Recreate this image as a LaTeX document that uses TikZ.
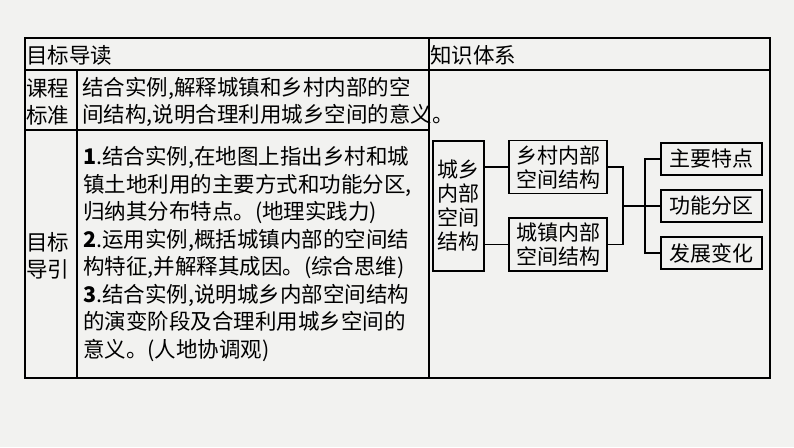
\documentclass[tikz,border=0pt]{standalone}
\usepackage{fontspec}
\setmainfont{Noto Sans CJK SC}
\usetikzlibrary{positioning}
\definecolor{paper}{RGB}{242,242,240}
\tikzset{
  txt/.style={anchor=west, inner sep=0pt, font=\fontsize{21.5}{27.5}\selectfont},
  box/.style={draw, line width=1.8pt, inner sep=0pt, font=\fontsize{21}{24}\selectfont, align=center},
  link/.style={line width=1.8pt}
}
\begin{document}
\begin{tikzpicture}[x=1pt, y=-1pt]
\fill[paper] (0,0) rectangle (794,447);
\useasboundingbox (0,0) rectangle (794,447);

% table
\draw[line width=1.5pt] (25,38) rectangle (770,378);
\draw[line width=1.2pt] (25,70) -- (770,70);
\draw[line width=1.2pt] (25,130) -- (429,130);
\draw[line width=1.2pt] (77,70) -- (77,378);
\draw[line width=1.2pt] (429,38) -- (429,378);

\node[txt] (head1) at (26,55) {目标导读};
\node[txt] (head2) at (430,55) {知识体系};
\node[txt, align=left] (std) at (26,102) {课程\\标准};
\node[txt, align=left] (stdtxt) at (82,102) {结合实例,解释城镇和乡村内部的空\\间结构,说明合理利用城乡空间的意义。};
\node[txt, align=left] (aim) at (26,256) {目标\\导引};
\node[txt, align=left] (aimtxt) at (83,254) {\textbf{1}.结合实例,在地图上指出乡村和城\\镇土地利用的主要方式和功能分区,\\归纳其分布特点。(地理实践力)\\\textbf{2}.运用实例,概括城镇内部的空间结\\构特征,并解释其成因。(综合思维)\\\textbf{3}.结合实例,说明城乡内部空间结构\\的演变阶段及合理利用城乡空间的\\意义。(人地协调观)};

% knowledge chart
\node[box, minimum width=51pt, minimum height=130pt] (whole) at (458.5,206) {城乡\\内部\\空间\\结构};
\node[box, minimum width=98pt, minimum height=53pt] (rural) at (558,167) {乡村内部\\空间结构};
\node[box, minimum width=98pt, minimum height=53pt] (urban) at (558,244.5) {城镇内部\\空间结构};
\node[box, minimum width=101pt, minimum height=32pt] (feat) at (711.5,159) {主要特点};
\node[box, minimum width=101pt, minimum height=32pt] (zone) at (711.5,206) {功能分区};
\node[box, minimum width=101pt, minimum height=32pt] (change) at (711.5,253) {发展变化};

\coordinate (join) at (623,206);
\coordinate (fork) at (645,206);
\draw[link] (whole.east |- rural) -- (rural.west);
\draw[link] (whole.east |- urban) -- (urban.west);
\draw[link] (rural.east) -| (join) |- (urban.east);
\draw[link] (join) -- (zone.west);
\draw[link] (feat.west) -| (fork) |- (change.west);
\end{tikzpicture}
\end{document}
